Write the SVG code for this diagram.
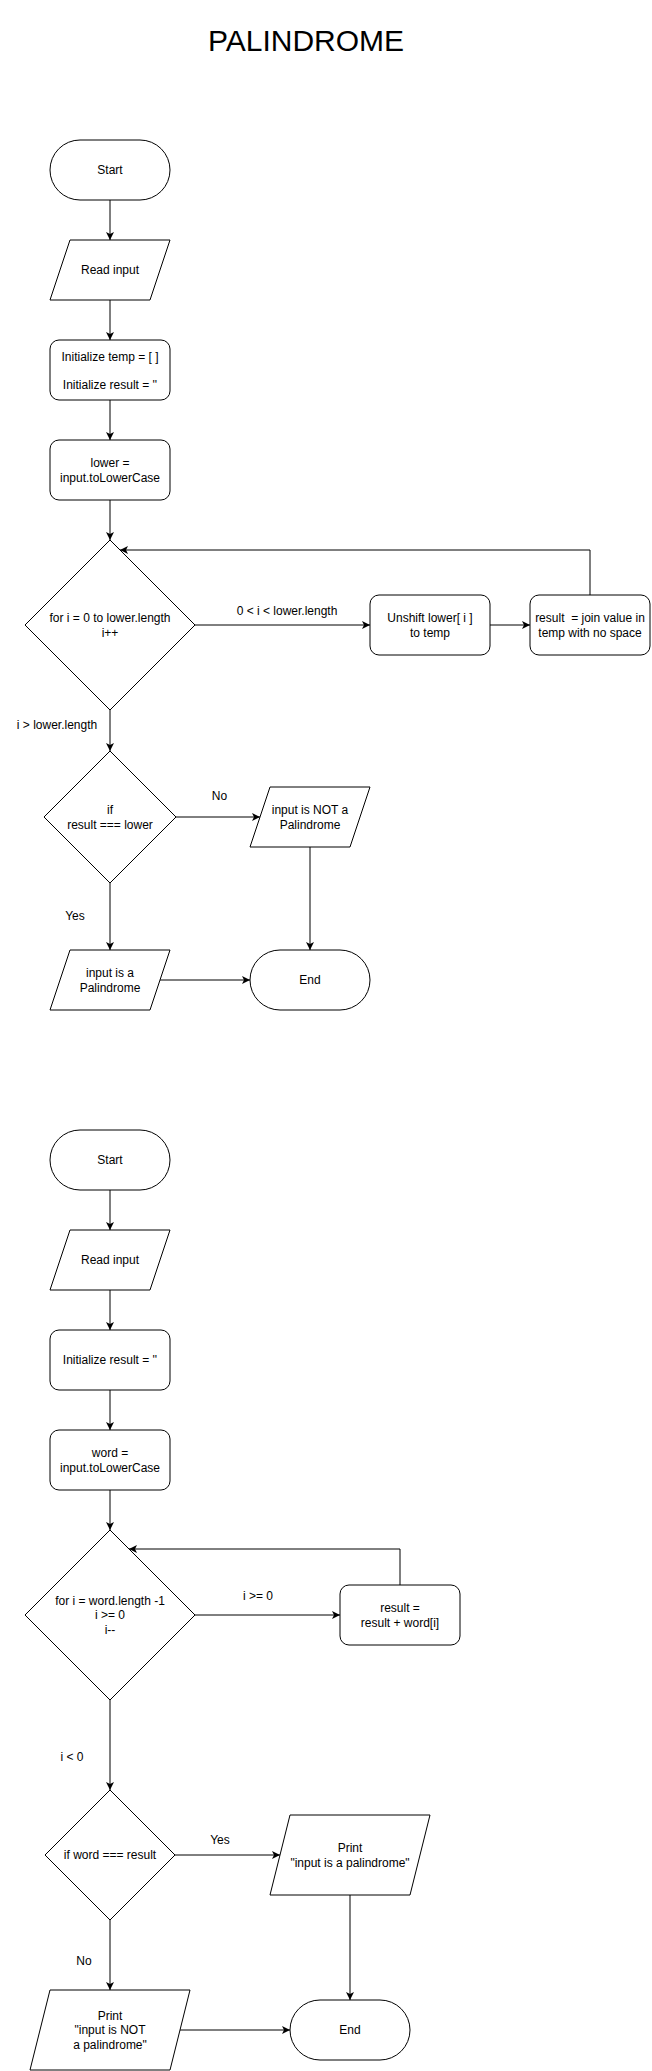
<svg xmlns="http://www.w3.org/2000/svg" width="652" height="2071" viewBox="0 0 652 2071">
<style>
.s{fill:#fff;stroke:#000;stroke-width:1}
.t{font-family:"Liberation Sans",Arial,Helvetica,sans-serif;font-size:12px;fill:#000;text-anchor:middle}
.c{fill:none;stroke:#000;stroke-width:1;marker-end:url(#a)}
.title{font-family:"Liberation Sans",Arial,Helvetica,sans-serif;font-size:30px;fill:#000;text-anchor:middle}
</style>
<defs>
<marker id="a" markerUnits="userSpaceOnUse" markerWidth="10" markerHeight="10" refX="8" refY="4" orient="auto">
<path d="M0,0 L8,4 L0,8 L2,4 Z" fill="#000"/>
</marker>
</defs>
<rect width="652" height="2071" fill="#fff"/>
<text class="title" x="306" y="51">PALINDROME</text>

<g id="connectors">
<path class="c" d="M110,200 V240"/>
<path class="c" d="M110,300 V340"/>
<path class="c" d="M110,400 V440"/>
<path class="c" d="M110,500 V540"/>
<path class="c" d="M195,625 H370"/>
<path class="c" d="M490,625 H530"/>
<path class="c" d="M590,595 V550 H120"/>
<path class="c" d="M110,710 V751"/>
<path class="c" d="M176,817 H260"/>
<path class="c" d="M310,847 V950"/>
<path class="c" d="M110,883 V950"/>
<path class="c" d="M160,980 H250"/>
<text class="t" x="287" y="615">0 &lt; i &lt; lower.length</text>
<text class="t" x="57" y="729">i &gt; lower.length</text>
<text class="t" x="219.5" y="800">No</text>
<text class="t" x="75" y="920">Yes</text>

<path class="c" d="M110,1190 V1230"/>
<path class="c" d="M110,1290 V1330"/>
<path class="c" d="M110,1390 V1430"/>
<path class="c" d="M110,1490 V1530"/>
<path class="c" d="M195,1615 H340"/>
<path class="c" d="M400,1585 V1549 H129"/>
<path class="c" d="M110,1700 V1790"/>
<path class="c" d="M175,1855 H280"/>
<path class="c" d="M350,1895 V2000"/>
<path class="c" d="M110,1920 V1990"/>
<path class="c" d="M180,2030 H290"/>
<text class="t" x="258" y="1600">i &gt;= 0</text>
<text class="t" x="72" y="1761">i &lt; 0</text>
<text class="t" x="220" y="1844">Yes</text>
<text class="t" x="84" y="1965">No</text>
</g>

<g id="start1">
<rect class="s" x="50" y="140" width="120" height="60" rx="30" ry="30"/>
<text class="t" x="110" y="174">Start</text>
</g>
<g id="read1">
<path class="s" d="M70,240 H170 L150,300 H50 Z"/>
<text class="t" x="110" y="274">Read input</text>
</g>
<g id="init1">
<rect class="s" x="50" y="340" width="120" height="60" rx="9" ry="9"/>
<text class="t" x="110" y="360.5">Initialize temp = [ ]</text>
<text class="t" x="110" y="389">Initialize result = ''</text>
</g>
<g id="lower1">
<rect class="s" x="50" y="440" width="120" height="60" rx="9" ry="9"/>
<text class="t" x="110" y="467">lower =</text>
<text class="t" x="110" y="481.5">input.toLowerCase</text>
</g>
<g id="loop1">
<path class="s" d="M110,540 L195,625 L110,710 L25,625 Z"/>
<text class="t" x="110" y="622">for i = 0 to lower.length</text>
<text class="t" x="110" y="636.5">i++</text>
</g>
<g id="unshift">
<rect class="s" x="370" y="595" width="120" height="60" rx="9" ry="9"/>
<text class="t" x="430" y="622">Unshift lower[ i ]</text>
<text class="t" x="430" y="636.5">to temp</text>
</g>
<g id="join">
<rect class="s" x="530" y="595" width="120" height="60" rx="9" ry="9"/>
<text class="t" x="590" y="622" xml:space="preserve">result  = join value in</text>
<text class="t" x="590" y="636.5">temp with no space</text>
</g>
<g id="if1">
<path class="s" d="M110,751 L176,817 L110,883 L44,817 Z"/>
<text class="t" x="110" y="814">if</text>
<text class="t" x="110" y="828.5">result === lower</text>
</g>
<g id="notpal1">
<path class="s" d="M270,787 H370 L350,847 H250 Z"/>
<text class="t" x="310" y="814">input is NOT a</text>
<text class="t" x="310" y="828.5">Palindrome</text>
</g>
<g id="pal1">
<path class="s" d="M70,950 H170 L150,1010 H50 Z"/>
<text class="t" x="110" y="977">input is a</text>
<text class="t" x="110" y="991.5">Palindrome</text>
</g>
<g id="end1">
<rect class="s" x="250" y="950" width="120" height="60" rx="30" ry="30"/>
<text class="t" x="310" y="984">End</text>
</g>

<g id="start2">
<rect class="s" x="50" y="1130" width="120" height="60" rx="30" ry="30"/>
<text class="t" x="110" y="1164">Start</text>
</g>
<g id="read2">
<path class="s" d="M70,1230 H170 L150,1290 H50 Z"/>
<text class="t" x="110" y="1264">Read input</text>
</g>
<g id="init2">
<rect class="s" x="50" y="1330" width="120" height="60" rx="9" ry="9"/>
<text class="t" x="110" y="1364">Initialize result = ''</text>
</g>
<g id="word2">
<rect class="s" x="50" y="1430" width="120" height="60" rx="9" ry="9"/>
<text class="t" x="110" y="1457">word =</text>
<text class="t" x="110" y="1471.5">input.toLowerCase</text>
</g>
<g id="loop2">
<path class="s" d="M110,1530 L195,1615 L110,1700 L25,1615 Z"/>
<text class="t" x="110" y="1605">for i = word.length -1</text>
<text class="t" x="110" y="1619.3">i &gt;= 0</text>
<text class="t" x="110" y="1633.7">i--</text>
</g>
<g id="append2">
<rect class="s" x="340" y="1585" width="120" height="60" rx="9" ry="9"/>
<text class="t" x="400" y="1612">result =</text>
<text class="t" x="400" y="1626.5">result + word[i]</text>
</g>
<g id="if2">
<path class="s" d="M110,1790 L175,1855 L110,1920 L45,1855 Z"/>
<text class="t" x="110" y="1859">if word === result</text>
</g>
<g id="pal2">
<path class="s" d="M290,1815 H430 L410,1895 H270 Z"/>
<text class="t" x="350" y="1852">Print</text>
<text class="t" x="350" y="1866.5">"input is a palindrome"</text>
</g>
<g id="notpal2">
<path class="s" d="M50,1990 H190 L170,2070 H30 Z"/>
<text class="t" x="110" y="2020">Print</text>
<text class="t" x="110" y="2034.3">"input is NOT</text>
<text class="t" x="110" y="2048.7">a palindrome"</text>
</g>
<g id="end2">
<rect class="s" x="290" y="2000" width="120" height="60" rx="30" ry="30"/>
<text class="t" x="350" y="2034">End</text>
</g>
</svg>
